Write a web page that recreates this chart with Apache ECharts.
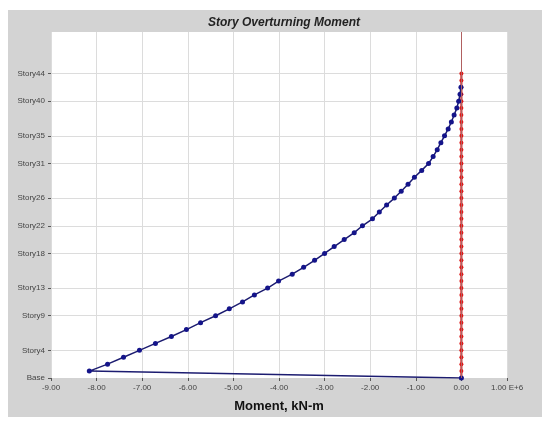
<!DOCTYPE html>
<html>
<head>
<meta charset="utf-8">
<script src="https://cdn.jsdelivr.net/npm/echarts@6/dist/echarts.min.js"></script>
<style>html,body{margin:0;padding:0;background:#fff}#c{width:550px;height:425px}</style>
</head>
<body>
<div id="c"></div>
<script>
// story labels shown on the axis
const shownStories = [0, 4, 9, 13, 18, 22, 26, 31, 35, 40, 44];
const storyNames = [];
for (let i = 0; i <= 50; i++) storyNames.push(i === 0 ? "Base" : "Story" + i);

// moment (E+6 kN-m), index = story number
const momentX = [0, -8.16, -7.76, -7.41, -7.06, -6.71, -6.36, -6.03, -5.72, -5.39, -5.09,
  -4.80, -4.54, -4.25, -4.01, -3.71, -3.46, -3.22, -3.00, -2.79, -2.57,
  -2.35, -2.17, -1.95, -1.80, -1.64, -1.47, -1.32, -1.17, -1.03, -0.87,
  -0.72, -0.62, -0.53, -0.45, -0.37, -0.29, -0.22, -0.16, -0.10, -0.06,
  -0.03, -0.01];
const momentY = [];
for (let i = 0; i <= 44; i++) momentY.push(0);

const chart = echarts.init(document.getElementById("c"));
const showIdx = (i) => shownStories.indexOf(i) >= 0;

chart.setOption({
  animation: false,
  graphic: [{
    type: "rect", z: -10,
    shape: { x: 8, y: 10, width: 534, height: 407 },
    style: { fill: "#d3d3d3" }
  }],
  title: {
    text: "Story Overturning Moment",
    left: 279, top: 12, textAlign: "center",
    textStyle: { fontSize: 12, fontStyle: "italic", fontWeight: "bold", color: "#222", fontFamily: "Arial" }
  },
  grid: { left: 51, top: 32, right: 43, bottom: 47, show: true, backgroundColor: "#fff", borderWidth: 0 },
  xAxis: {
    type: "value", min: -9, max: 1, interval: 1,
    name: "Moment, kN-m", nameLocation: "middle", nameGap: 22,
    nameTextStyle: { fontSize: 13, fontWeight: "bold", color: "#111", fontFamily: "Arial" },
    axisLine: { onZero: false, lineStyle: { color: "#d08080" } },
    axisTick: { show: true, length: 3, lineStyle: { color: "#555" } },
    axisLabel: { fontSize: 8, color: "#444", margin: 6,
      formatter: (v) => v === 1 ? "1.00 E+6" : v.toFixed(2) },
    splitLine: { lineStyle: { color: "#dcdcdc" } }
  },
  yAxis: {
    type: "category", data: storyNames, boundaryGap: false,
    axisLine: { onZero: false, show: false },
    axisTick: { interval: (i) => showIdx(i), length: 3, lineStyle: { color: "#555" } },
    axisLabel: { interval: (i) => showIdx(i), fontSize: 8, color: "#444", margin: 6 },
    splitLine: { show: true, interval: (i) => showIdx(i) && i > 0, lineStyle: { color: "#dcdcdc" } }
  },
  series: [
    {
      type: "line",
      data: momentY.map((v, i) => [v, i]),
      symbol: "circle", symbolSize: 4, showAllSymbol: true,
      itemStyle: { color: "#e01818" },
      lineStyle: { color: "#c81010", width: 2 },
      markLine: {
        silent: true, symbol: "none", label: { show: false },
        lineStyle: { color: "#b06060", width: 1, type: "solid" },
        data: [{ xAxis: 0 }]
      },
      z: 3
    },
    {
      type: "line",
      data: momentX.map((v, i) => [v, i]),
      symbol: "circle", symbolSize: 5, showAllSymbol: true,
      itemStyle: { color: "#14148a" },
      lineStyle: { color: "#1c1c70", width: 1.5 },
      z: 4
    }
  ]
});
</script>
</body>
</html>
